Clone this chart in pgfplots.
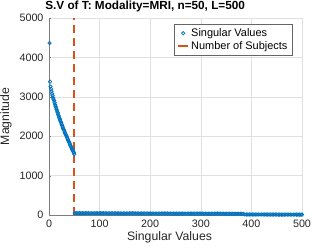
\documentclass[border=0pt]{standalone}
\usepackage{pgfplots}
\pgfplotsset{compat=1.18}
\usepackage{fontspec}
\setmainfont{Liberation Sans}
\definecolor{mblue}{rgb}{0,0.447,0.741}
\definecolor{morange}{rgb}{0.85,0.325,0.098}
\definecolor{axgray}{rgb}{0.15,0.15,0.15}
\pgfplotsset{
  shortline/.style={legend image code/.code={\draw[##1, solid] (0bp,0bp) -- (10bp,0bp);}},
  shortmark/.style={legend image code/.code={\draw[mark repeat=2,mark phase=2,##1] plot coordinates {(0bp,0bp)(5bp,0bp)(10bp,0bp)};}},
}
\begin{document}
\begin{tikzpicture}[x=1bp,y=1bp]
\path[use as bounding box] (-49,-34) rectangle (283,215);
\begin{axis}[
  at={(0,0)}, anchor=south west,
  scale only axis,
  width=253bp, height=197bp,
  xmin=0, xmax=500, ymin=0, ymax=5000,
  xtick={0,100,200,300,400,500},
  ytick={0,1000,2000,3000,4000,5000},
  axis lines=left,
  axis line style={-, draw=axgray!60, line width=0.5pt},
  tick style={draw=axgray!60},
  tick align=inside,
  major tick length=2.5bp,
  grid=major,
  major grid style={draw=black!12, line width=0.4pt},
  /pgf/number format/assume math mode=true,
  /pgf/number format/1000 sep={},
  ticklabel style={font=\fontsize{10.8}{12}\selectfont, text=axgray},
  yticklabel style={xshift=-2bp},
  xticklabel style={yshift=-1bp},
  xlabel={Singular Values},
  ylabel={Magnitude},
  label style={font=\fontsize{12.3}{14}\selectfont, text=axgray},
  xlabel style={yshift=2bp, xshift=-6bp},
  ylabel style={yshift=1bp},
  title={\textbf{S.V of T: Modality=MRI, n=50, L=500}},
  title style={font=\fontsize{11.8}{13}\selectfont, at={(0.38,1)}, yshift=-3bp},
  legend style={at={(0.963,0.968)}, anchor=north east, font=\fontsize{11}{12}\selectfont,
    draw=black!60, line width=0.4pt, row sep=-0.5bp, inner xsep=3bp, inner ysep=2bp},
  legend cell align=left,
  clip=false,
]
\addplot[only marks, mark=o, mark size=1.7bp, mblue, mark options={line width=0.75pt}, shortmark] coordinates {
(1,4365)(2,3385)(3,3260)(4,3200)(5,3140)(6,3080)(7,3030)(8,2980)(9,2940)(10,2900)
(11,2850)(12,2800)(13,2760)(14,2720)(15,2680)(16,2640)(17,2600)(18,2560)(19,2520)(20,2480)
(21,2445)(22,2410)(23,2375)(24,2340)(25,2305)(26,2270)(27,2235)(28,2200)(29,2170)(30,2140)
(31,2105)(32,2075)(33,2045)(34,2015)(35,1985)(36,1955)(37,1925)(38,1895)(39,1865)(40,1835)
(41,1805)(42,1775)(43,1750)(44,1720)(45,1695)(46,1665)(47,1640)(48,1610)(49,1580)(50,1545)
(51,48)(54,47)(57,47)(60,46)(63,46)(66,46)(69,45)(72,45)(75,45)(78,45)
(81,44)(84,44)(87,44)(90,44)(93,44)(96,43)(99,43)(102,43)(105,43)(108,43)
(111,42)(114,42)(117,42)(120,42)(123,42)(126,42)(129,41)(132,41)(135,41)(138,41)
(141,41)(144,41)(147,40)(150,40)(153,40)(156,40)(159,40)(162,40)(165,40)(168,39)
(171,39)(174,39)(177,39)(180,39)(183,39)(186,39)(189,38)(192,38)(195,38)(198,38)
(201,38)(204,38)(207,38)(210,38)(213,37)(216,37)(219,37)(222,37)(225,37)(228,37)
(231,37)(234,37)(237,36)(240,36)(243,36)(246,36)(249,36)(252,36)(255,36)(258,36)
(261,36)(264,35)(267,35)(270,35)(273,35)(276,35)(279,35)(282,35)(285,35)(288,35)
(291,34)(294,34)(297,34)(300,34)(303,34)(306,34)(309,34)(312,34)(315,34)(318,33)
(321,33)(324,33)(327,33)(330,33)(333,33)(336,33)(339,33)(342,33)(345,32)(348,32)
(351,32)(354,32)(357,32)(360,32)(363,32)(366,31)(369,31)(372,31)(375,31)(378,31)
(381,30)(384,30)
(387,14)(390,14)(393,14)(396,14)(399,14)(402,14)(405,13)(408,13)(411,13)(414,13)
(417,13)(420,13)(423,13)(426,13)(429,12)(432,12)(435,12)(438,12)(441,12)(444,12)
(447,12)(450,12)(453,11)(456,11)(459,11)(462,11)(465,11)(468,11)(471,11)(474,10)
(477,10)(480,10)(483,10)(486,10)(489,9)(492,9)(495,9)(498,8)(500,8)
};
\addlegendentry{Singular Values}
\addplot[morange, line width=2bp, dash pattern=on 8bp off 5bp, shortline] coordinates {(50,0)(50,5000)};
\addlegendentry{Number of Subjects}
\end{axis}
\end{tikzpicture}
\end{document}
